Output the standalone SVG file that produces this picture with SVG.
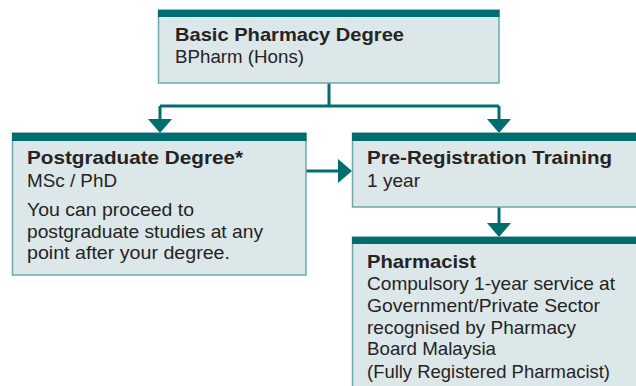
<svg xmlns="http://www.w3.org/2000/svg" width="636" height="386" viewBox="0 0 636 386">
<defs>
<style>
.box{fill:#dbe7e8;stroke:#6fa7a9;stroke-width:1.5}
.bar{fill:#006e6e}
.conn{stroke:#006e6e;stroke-width:3;fill:none}
.head{fill:#006e6e}
text{font-family:"Liberation Sans",Arial,sans-serif;font-size:18.5px;fill:#262324}
.b{font-weight:bold}
</style>
</defs>
<rect width="636" height="386" fill="#ffffff"/>
<g id="connectors">
<path class="conn" d="M329,83 V106 M160,106 H499 M160,106 V120 M499,106 V120"/>
<polygon class="head" points="148,119 172,119 160,133"/>
<polygon class="head" points="487,119 511,119 499,133"/>
<path class="conn" d="M306,171 H339"/>
<polygon class="head" points="338,159 338,183 352,171"/>
<path class="conn" d="M499,207 V224"/>
<polygon class="head" points="487,223 511,223 499,237"/>
</g>
<g id="basic">
<rect class="box" x="158.5" y="10" width="340.5" height="73"/>
<rect class="bar" x="158" y="10" width="341.5" height="7"/>
<text x="175" y="41" class="b" textLength="229" lengthAdjust="spacingAndGlyphs">Basic Pharmacy Degree</text>
<text x="175" y="63" textLength="129" lengthAdjust="spacingAndGlyphs">BPharm (Hons)</text>
</g>
<g id="postgrad">
<rect class="box" x="12.5" y="133" width="293.5" height="142"/>
<rect class="bar" x="12" y="133" width="294.5" height="8"/>
<text x="27" y="164" class="b" textLength="216" lengthAdjust="spacingAndGlyphs">Postgraduate Degree*</text>
<text x="27" y="187" textLength="90" lengthAdjust="spacingAndGlyphs">MSc / PhD</text>
<text x="27" y="216" textLength="167" lengthAdjust="spacingAndGlyphs">You can proceed to</text>
<text x="27" y="238" textLength="236" lengthAdjust="spacingAndGlyphs">postgraduate studies at any</text>
<text x="27" y="259" textLength="203" lengthAdjust="spacingAndGlyphs">point after your degree.</text>
</g>
<g id="prereg">
<rect class="box" x="352.5" y="133" width="290" height="74"/>
<rect class="bar" x="352" y="133" width="290" height="8"/>
<text x="367" y="164" class="b" textLength="245" lengthAdjust="spacingAndGlyphs">Pre-Registration Training</text>
<text x="367" y="187" textLength="53" lengthAdjust="spacingAndGlyphs">1 year</text>
</g>
<g id="pharmacist">
<rect class="box" x="352.5" y="237" width="290" height="160"/>
<rect class="bar" x="352" y="237" width="290" height="7"/>
<text x="367" y="268" class="b" textLength="109" lengthAdjust="spacingAndGlyphs">Pharmacist</text>
<text x="367" y="290" textLength="248" lengthAdjust="spacingAndGlyphs">Compulsory 1-year service at</text>
<text x="367" y="312" textLength="233" lengthAdjust="spacingAndGlyphs">Government/Private Sector</text>
<text x="367" y="334" textLength="209" lengthAdjust="spacingAndGlyphs">recognised by Pharmacy</text>
<text x="367" y="355" textLength="129" lengthAdjust="spacingAndGlyphs">Board Malaysia</text>
<text x="367" y="378" textLength="243" lengthAdjust="spacingAndGlyphs">(Fully Registered Pharmacist)</text>
</g>
</svg>
